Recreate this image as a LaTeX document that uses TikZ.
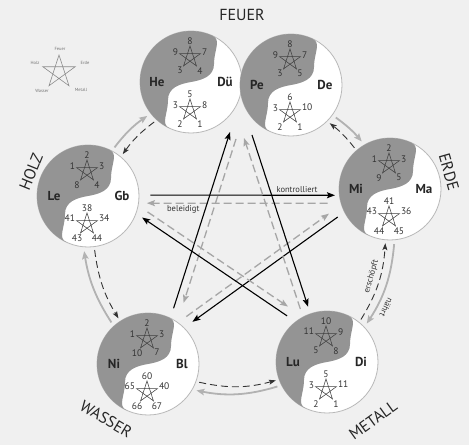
\documentclass[tikz,border=0pt]{standalone}
\usepackage{fontspec}
\setmainfont{PT Sans}
\usepackage{tikz}
\usetikzlibrary{arrows.meta}

\begin{document}
\begin{tikzpicture}[x=1pt,y=1pt,
  yinfill/.style={fill=black!42},
  organ/.style={circle,draw=black!28,line width=0.8pt,fill=white,minimum size=102pt,inner sep=0pt},
  meridian/.style={font=\bfseries\fontsize{13}{15}\selectfont,text=black!85,inner sep=0pt},
  num/.style={font=\fontsize{9.5}{11}\selectfont,text=black!80,inner sep=0.4pt},
  element/.style={font=\fontsize{16}{18}\selectfont,text=black!85},
  legendtext/.style={font=\fontsize{4.5}{5}\selectfont,text=black!55,inner sep=0pt},
  note/.style={font=\fontsize{8.5}{10}\selectfont,text=black!80,inner sep=1pt},
  control/.style={line width=1.1pt,-{Stealth[length=8pt,width=6pt,inset=1.5pt]}},
  insult/.style={black!35,line width=1.3pt,dash pattern=on 8pt off 4pt,-{Stealth[length=8pt,width=6pt,inset=1.5pt]}},
  feed/.style={black!30,line width=1.8pt,shorten <=4pt,shorten >=4pt,-{Stealth[length=8pt,width=6.5pt,inset=1.5pt]}},
  drain/.style={black!80,line width=0.9pt,dash pattern=on 7pt off 4pt,shorten <=3pt,shorten >=3pt,-{Stealth[length=7pt,width=5pt,inset=1.5pt]}},
  pics/taiji/.style={code={
    \fill[yinfill] (65:51) arc[start angle=65,end angle=245,radius=51]
      .. controls (-30.6,-42) and (-23,-32) .. (-23,-18)
      .. controls (-23,-6) and (-12,-2) .. (0,0)
      .. controls (12,2) and (23,6) .. (23,18)
      .. controls (23,32) and (30.6,42) .. (65:51) -- cycle;
  }},
  pics/penta/.style={code={
    \draw[black!75,line width=0.55pt] (90:11) -- (234:11) -- (18:11) -- (162:11) -- (306:11) -- cycle;
    \foreach \n [count=\k] in #1 {
      \pgfmathtruncatemacro\ang{18+72*\k}
      \pgfmathtruncatemacro\opp{mod(198+72*\k,360)}
      \node[num,anchor=\opp] (-\k) at (\ang:12) {\n};
    }
  }}]
\fill[black!6] (0,0) rectangle (469,445);
\useasboundingbox (0,0) rectangle (469,445);

% the six organ pairs
\foreach \nm/\x/\y/\ml/\mr/\nt/\nb in {
  HeDu/191/363/He/Dü/{8,9,3,4,7}/{5,3,2,1,8},
  PeDe/291/360/Pe/De/{8,9,3,5,7}/{6,3,2,1,10},
  MiMa/390/256/Mi/Ma/{2,1,9,5,3}/{41,43,44,45,36},
  LuDi/327/83/Lu/Di/{10,11,5,8,9}/{5,3,2,1,11},
  NiBl/148/81/Ni/Bl/{2,1,10,7,3}/{60,65,66,67,40},
  LeGb/88/249/Le/Gb/{2,1,8,4,3}/{38,41,43,44,34}}{
  \node[organ] (\nm) at (\x,\y) {};
  \pic at (\nm) {taiji};
  \pic (\nm-top) at ([shift={(-1,25)}]\nm.center) {penta=\nt};
  \pic (\nm-bot) at ([shift={(-1,-28)}]\nm.center) {penta=\nb};
  \node[meridian] (\nm-l) at ([xshift=-34pt]\nm.center) {\ml};
  \node[meridian] (\nm-r) at ([xshift=34pt]\nm.center) {\mr};
}

\node[element] (feuer) at (242,430) {FEUER};
\node[element,rotate=-74] (erde) at (449,273) {ERDE};
\node[element,rotate=68] (holz) at (31,273) {HOLZ};
\node[element,rotate=-31] (wasser) at (106,26) {WASSER};
\node[element,rotate=36] (metall) at (373,25) {METALL};

% legend
\coordinate (legend) at (59,373);
\draw[black!45,line width=0.6pt] (legend) +(90:17) -- +(234:17) -- +(18:17) -- +(162:17) -- +(306:17) -- cycle;
\node[legendtext] (lg-feuer) at (60,396) {Feuer};
\node[legendtext] (lg-holz) at (35,382) {Holz};
\node[legendtext] (lg-erde) at (85,382) {Erde};
\node[legendtext] (lg-wasser) at (42,354) {Wasser};
\node[legendtext] (lg-metall) at (81,355) {Metall};

% outer ring
\draw[feed] (LeGb.62) to[bend left=9] (HeDu.218);
\draw[drain] (HeDu.228) to[bend right=9] (LeGb.50);
\draw[feed] (PeDe.-36) to[bend left=7] (MiMa.120);
\draw[drain] (MiMa.131) to[bend right=7] (PeDe.-45);
\draw[feed] (MiMa.-85) to[bend left=14] node[note,pos=0.72,sloped,allow upside down,above=4pt] (naehrt) {nährt} (LuDi.43);
\draw[drain] (LuDi.51) to[bend right=14] node[note,pos=0.55,sloped,above=3pt] (erschoepft) {erschöpft} (MiMa.-95);
\draw[feed] (LuDi.207) to[bend left=14] (NiBl.-30);
\draw[drain] (NiBl.-20) to[bend right=14] (LuDi.200);
\draw[feed] (NiBl.132) to[bend left=12] (LeGb.-95);
\draw[drain] (LeGb.-83) to[bend right=12] (NiBl.123);

% inner star
\coordinate (fire-b3) at (230,313);
\coordinate (fire-g3) at (236,306);
\coordinate (fire-g4) at (244,307);
\coordinate (fire-b4) at (252,310);
\draw[control,shorten <=11pt,shorten >=4pt] (LeGb.1) -- node[note,above=1pt,pos=0.79] (kontrolliert) {kontrolliert} (MiMa.187);
\draw[insult,shorten <=13pt,shorten >=8pt] (MiMa.196) -- node[note,below=1pt,pos=0.78] (beleidigt) {beleidigt} (LeGb.-8);
\draw[control,shorten <=8pt,shorten >=10pt] (MiMa.207) -- (NiBl.45);
\draw[insult,shorten <=10pt,shorten >=15pt] (NiBl.54) -- (MiMa.198);
\draw[control,shorten <=10pt] (NiBl.64) -- (fire-b3);
\draw[insult,shorten >=20pt] (fire-g3) -- (NiBl.55);
\draw[control,shorten >=7pt] (fire-b4) -- (LuDi.109);
\draw[insult,shorten <=8pt] (LuDi.118) -- (fire-g4);
\draw[control,shorten <=10pt,shorten >=7pt] (LuDi.128) -- (LeGb.-20);
\draw[insult,shorten <=11pt,shorten >=18pt] (LeGb.-11) -- (LuDi.118);
\end{tikzpicture}
\end{document}
